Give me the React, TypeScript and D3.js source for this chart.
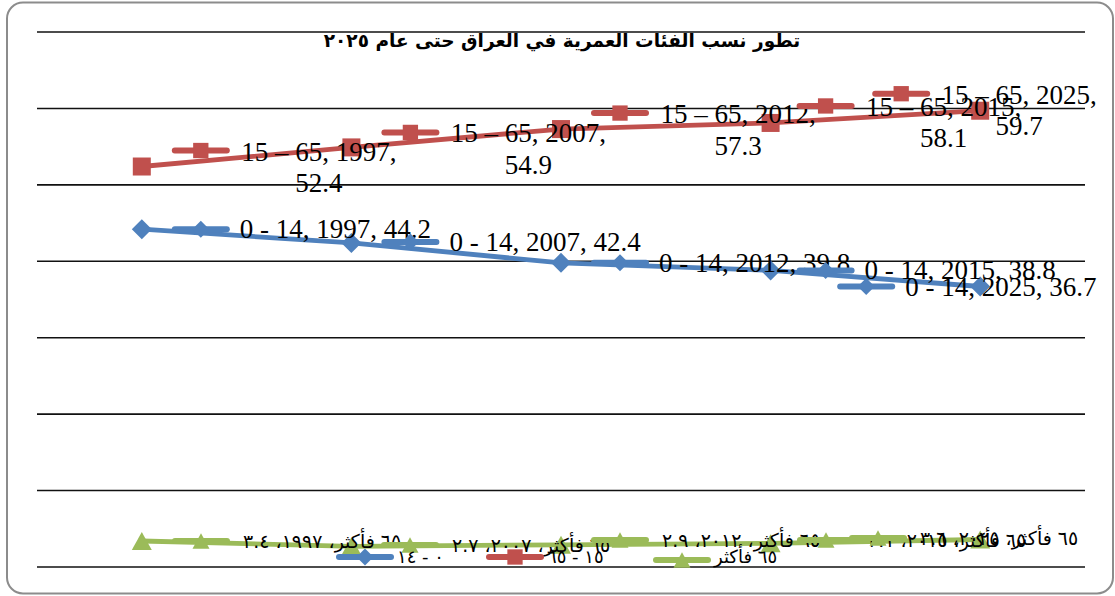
import React from "react";
import * as d3 from "d3";

const years = ["1997", "2007", "2012", "2015", "2025"];
const yearsAr = ["١٩٩٧", "٢٠٠٧", "٢٠١٢", "٢٠١٥", "٢٠٢٥"];
const age0to14 = [44.2, 42.4, 39.8, 38.8, 36.7];
const age15to65 = [52.4, 54.9, 57.3, 58.1, 59.7];
const age65plus = [3.4, 2.7, 2.9, 3.1, 3.6];
const age65plusAr = ["٣.٤", "٢.٧", "٢.٩", "٣.١", "٣.٦"];
const seriesNames = ["0 - 14", "15 – 65", "65+"];
const legendNames = ["٠ - ١٤", "١٥ - ٦٥", "٦٥ فأكثر"];
const title = "تطور نسب الفئات العمرية في العراق حتى عام ٢٠٢٥";
const yTicks = [0, 10, 20, 30, 40, 50, 60, 70];

// label placement offsets (key centre relative to data point)
const redOffsets: [number, number][] = [[59, -16], [59, -15], [59, -16], [55, -17], [-79, -17]];
const blueOffsets: [number, number][] = [[59, 0], [59, -1], [59, 0], [55, 0], [-114, 0]];
const greenKeyX = [201, 410, 620, 826, 878];
const greenKeyY = [541, 545, 540, 540, 538];

const W = 1115, H = 596;
const COLORS = ["#4F81BD", "#C0504D", "#9BBB59"];

function Marker({ kind, x, y, color, s = 1 }: { kind: number; x: number; y: number; color: string; s?: number }) {
  if (kind === 0) {
    const r = 10 * s;
    return <path d={`M${x - r},${y}L${x},${y - r}L${x + r},${y}L${x},${y + r}Z`} fill={color} />;
  }
  if (kind === 1) {
    const r = 9 * s;
    return <rect x={x - r} y={y - r} width={2 * r} height={2 * r} fill={color} />;
  }
  const w = 10 * s, h = 9 * s;
  return <path d={`M${x - w},${y + h}L${x},${y - h}L${x + w},${y + h}Z`} fill={color} />;
}

function Key({ kind, x, y }: { kind: number; x: number; y: number }) {
  const c = COLORS[kind];
  return (
    <g>
      <line x1={x - 26} x2={x + 26} y1={y} y2={y} stroke={c} strokeWidth={6} strokeLinecap="round" />
      <Marker kind={kind} x={x} y={y} color={c} s={0.85} />
    </g>
  );
}

export default function App() {
  const x = d3.scaleBand<string>().domain(years).range([37, 1085]);
  const cx = (i: number) => (x(years[i]) as number) + x.bandwidth() / 2;
  const y = d3.scaleLinear().domain([0, 70]).range([567, 32]);
  const series = [age0to14, age15to65, age65plus];
  const line = d3.line<number>().x((_, i) => cx(i)).y((d) => y(d));
  const serif = "'Liberation Serif', 'Times New Roman', serif";
  const arab = "'DejaVu Sans', sans-serif";

  return (
    <div style={{ position: "absolute", left: 0, top: 0 }}>
      <svg width={W} height={H} style={{ display: "block" }}>
        <rect x={0} y={0} width={W} height={H} fill="#fff" />
        <rect x={7} y={2.5} width={1106} height={591} rx={16} fill="#fff" stroke="#8c8c8c" strokeWidth={2} />
        {yTicks.map((t) => (
          <line key={t} x1={37} x2={1085} y1={y(t)} y2={y(t)} stroke="#111" strokeWidth={1.6} />
        ))}
        <text x={562} y={47} textAnchor="middle" fontFamily={arab} fontWeight="bold" fontSize={18.5} fill="#000">
          {title}
        </text>
        {series.map((vals, k) => (
          <g key={k}>
            <path d={line(vals) || ""} fill="none" stroke={COLORS[k]} strokeWidth={4.8} strokeLinejoin="round" />
            {vals.map((v, i) => (
              <Marker key={i} kind={k} x={cx(i)} y={y(v)} color={COLORS[k]} />
            ))}
          </g>
        ))}
        {/* 0-14 labels */}
        {age0to14.map((v, i) => {
          const kx = cx(i) + blueOffsets[i][0];
          const ky = y(v) + blueOffsets[i][1];
          return (
            <g key={"b" + i}>
              <Key kind={0} x={kx} y={ky} />
              <text x={kx + 39} y={ky + 9} fontFamily={serif} fontSize={27} fill="#000">
                {`${seriesNames[0]}, ${years[i]}, ${v}`}
              </text>
            </g>
          );
        })}
        {/* 15-65 labels */}
        {age15to65.map((v, i) => {
          const kx = cx(i) + redOffsets[i][0];
          const ky = y(v) + redOffsets[i][1];
          const c = kx + 39 + 79;
          return (
            <g key={"r" + i}>
              <Key kind={1} x={kx} y={ky} />
              <text x={c} y={ky + 10} textAnchor="middle" fontFamily={serif} fontSize={27} fill="#000">
                <tspan x={c}>{`${seriesNames[1]}, ${years[i]},`}</tspan>
                <tspan x={c} dy={31.5}>{`${v}`}</tspan>
              </text>
            </g>
          );
        })}
        {/* 65+ labels */}
        {age65plus.map((v, i) => {
          const kx = greenKeyX[i];
          const ky = greenKeyY[i];
          return (
            <g key={"g" + i}>
              <Key kind={2} x={kx} y={ky} />
              <text x={kx + 42} y={ky + 7} fontFamily={arab} fontSize={19} fill="#000">
                {`٦٥ فأكثر، ${yearsAr[i]}، ${age65plusAr[i]}`}
              </text>
            </g>
          );
        })}
        {/* legend */}
        {[365, 515, 682].map((lx, k) => (
          <g key={"l" + k}>
            <Key kind={k} x={lx} y={k === 2 ? 560 : 557} />
            <text x={lx + 32} y={563} fontFamily={arab} fontSize={18} fill="#000">
              {legendNames[k]}
            </text>
          </g>
        ))}
      </svg>
    </div>
  );
}
